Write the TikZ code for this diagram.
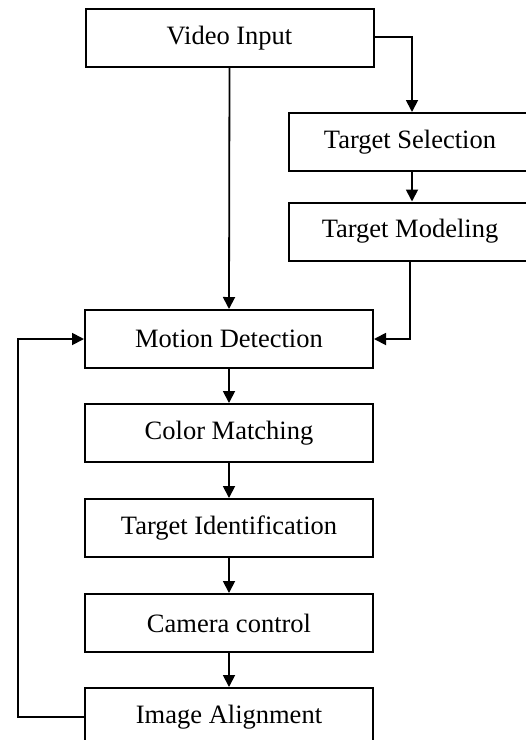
\documentclass[tikz,border=0pt]{standalone}
\usepackage{fontspec}
\setmainfont{Liberation Serif}
\usetikzlibrary{arrows.meta}
\begin{document}
\begin{tikzpicture}[x=1pt,y=-1pt,
  box/.style={draw,line width=2pt,minimum height=58pt,inner sep=0pt,
    font=\fontsize{26.5}{30}\selectfont},
  mainbox/.style={box,minimum width=288pt},
  sidebox/.style={box,minimum width=243pt},
  link/.style={line width=1.8pt,-{Triangle[width=12pt,length=12pt]}}]
\useasboundingbox (0,0) rectangle (526,740);
\clip (0,0) rectangle (526,740);
% main column
\node[mainbox] (vi) at (229.5,38) {Video Input};
\node[mainbox] (md) at (229,339) {Motion Detection};
\node[mainbox] (cm) at (229,433) {Color Matching};
\node[mainbox] (ti) at (229,528) {Target Identification};
\node[mainbox] (cc) at (229,623) {Camera control};
\node[mainbox] (ia) at (229,717) {Image Alignment};
% side branch
\node[sidebox] (ts) at (410,142) {Target Selection};
\node[sidebox] (tm) at (410,231.5) {Target Modeling};
% routing points
\coordinate (fbx) at (18,0);
\coordinate (brx) at (412,0);
% connectors
\draw[link] (vi.south) -- (md.north);
\draw[link] (vi.east |- 0,37) -| (brx |- ts.north);
\draw[link] (brx |- ts.south) -- (brx |- tm.north);
\draw[link] (410,0 |- tm.south) |- (md.east);
\draw[link] (md.south) -- (cm.north);
\draw[link] (cm.south) -- (ti.north);
\draw[link] (ti.south) -- (cc.north);
\draw[link] (cc.south) -- (ia.north);
\draw[link] (ia.west) -| (fbx |- md.west) -- (md.west);
\end{tikzpicture}
\end{document}
